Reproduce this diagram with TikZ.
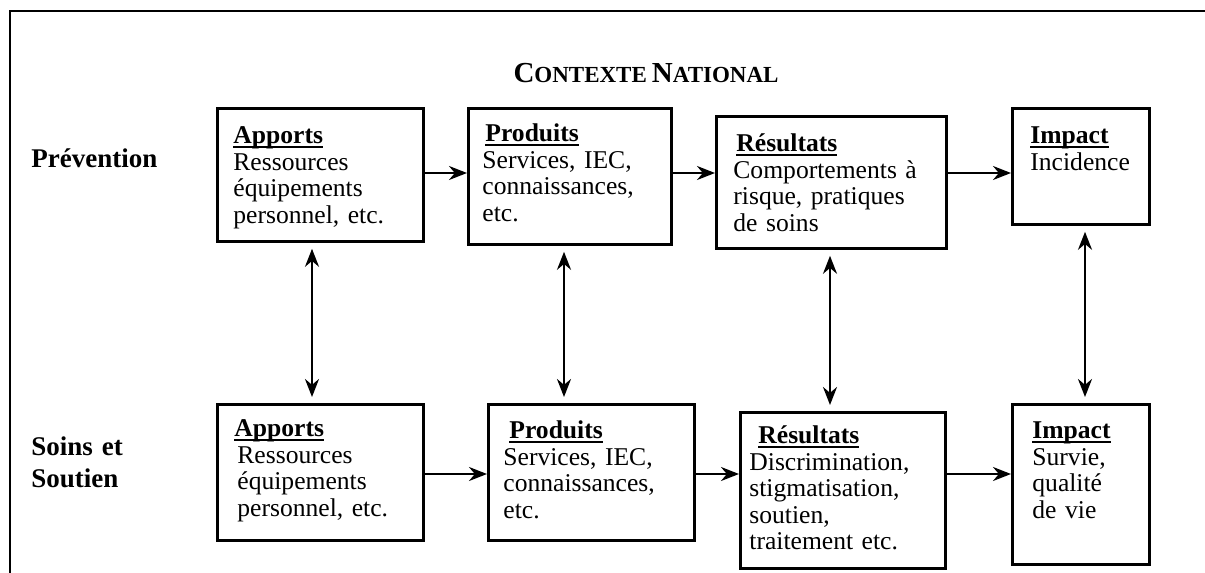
\documentclass[tikz,border=0pt]{standalone}
\usepackage{fontspec}
\setmainfont{Liberation Serif}
\usetikzlibrary{arrows.meta}
\frenchspacing

\newsavebox{\titrebox}
\newcommand{\titre}[1]{\sbox{\titrebox}{\textbf{#1}}\rlap{\rule[-2.2pt]{\wd\titrebox}{1.1pt}}\usebox{\titrebox}}

\begin{document}
\begin{tikzpicture}[
    x = 0.5pt, y = -0.5pt,
    bloc/.style = {draw, line width = 1.4pt, anchor = north west, inner ysep = 0pt,
                   align = left, font = \fontsize{12.8}{13.3}\selectfont},
    rang/.style = {anchor = base west, inner sep = 0pt, align = left,
                   font = \fontsize{13.5}{16}\selectfont\bfseries},
    fleche/.style = {-{Stealth[length = 9pt, width = 7pt]}, line width = 1.2pt},
    dfleche/.style = {{Stealth[length = 9pt, width = 7pt]}-{Stealth[length = 9pt, width = 7pt]},
                      line width = 1.2pt, shorten <=3pt, shorten >=3pt}
  ]
  \useasboundingbox (0, 0) rectangle (1205, 573);
  % frame
  \draw[line width = 1.2pt] (10, 573) -- (10, 11) -- (1205, 11);
  % title and row labels
  \node (contexte) at (646, 82) [anchor = base, font = \bfseries]
    {{\fontsize{14.5}{16}\selectfont C}{\fontsize{11.5}{14}\selectfont ONTEXTE}
     {\fontsize{14.5}{16}\selectfont N}{\fontsize{11.5}{14}\selectfont ATIONAL}};
  \node (prev)  at (31, 167) [rang] {Prévention};
  \node (soins) at (31, 455) [rang, text width = 60pt] {Soins et\\Soutien};
  % prevention row
  \node (apT) at (216, 107) [bloc, inner xsep = 8pt, text width = 87pt, text height = 17.5pt, text depth = 49pt]
    {\titre{Apports}\\Ressources\\équipements\\personnel, etc.};
  \node (prT) at (467, 107) [bloc, inner xsep = 7pt, text width = 87.5pt, text height = 16.5pt, text depth = 51.5pt]
    {\hspace*{1.5pt}\titre{Produits}\\Services, IEC,\\connaissances,\\etc.};
  \node (reT) at (715, 115) [bloc, inner xsep = 8.5pt, text width = 98pt, text height = 17.5pt, text depth = 48.5pt]
    {\hspace*{1.5pt}\titre{Résultats}\\Comportements à\\risque, pratiques\\de soins};
  \node (imT) at (1011, 107) [bloc, inner xsep = 9pt, text width = 50.5pt, text height = 17.5pt, text depth = 40.5pt]
    {\titre{Impact}\\Incidence};
  % care and support row
  \node (apB) at (216, 403) [bloc, inner xsep = 8.5pt, text width = 86pt, text height = 16pt, text depth = 52pt]
    {\titre{Apports}\\\hspace*{1.5pt}Ressources\\\hspace*{1.5pt}équipements\\\hspace*{1.5pt}personnel, etc.};
  \node (prB) at (487, 403) [bloc, inner xsep = 7.5pt, text width = 88pt, text height = 17pt, text depth = 51pt]
    {\hspace*{3pt}\titre{Produits}\\Services, IEC,\\connaissances,\\etc.};
  \node (reB) at (739, 411) [bloc, inner xsep = 4.5pt, text width = 93.5pt, text height = 15.5pt, text depth = 62.5pt]
    {\hspace*{4.5pt}\titre{Résultats}\\Discrimination,\\stigmatisation,\\soutien,\\traitement etc.};
  \node (imB) at (1011, 403) [bloc, inner xsep = 10pt, text width = 48.5pt, text height = 17pt, text depth = 63pt]
    {\titre{Impact}\\Survie,\\qualité\\de vie};
  % rows and columns of the arrows
  \coordinate (ligneT) at (0, 173);
  \coordinate (ligneB) at (0, 474);
  \coordinate (colA) at (312, 0);
  \coordinate (colP) at (564, 0);
  \coordinate (colR) at (830, 0);
  \coordinate (colI) at (1085, 0);
  % chain of each row
  \draw[fleche] (apT.east |- ligneT) -- (prT.west |- ligneT);
  \draw[fleche] (prT.east |- ligneT) -- (reT.west |- ligneT);
  \draw[fleche] (reT.east |- ligneT) -- (imT.west |- ligneT);
  \draw[fleche] (apB.east |- ligneB) -- (prB.west |- ligneB);
  \draw[fleche] (prB.east |- ligneB) -- (reB.west |- ligneB);
  \draw[fleche] (reB.east |- ligneB) -- (imB.west |- ligneB);
  % links between the rows
  \draw[dfleche] (apT.south -| colA) -- (apB.north -| colA);
  \draw[dfleche] (prT.south -| colP) -- (prB.north -| colP);
  \draw[dfleche] (reT.south -| colR) -- (reB.north -| colR);
  \draw[dfleche] (imT.south -| colI) -- (imB.north -| colI);
\end{tikzpicture}
\end{document}
